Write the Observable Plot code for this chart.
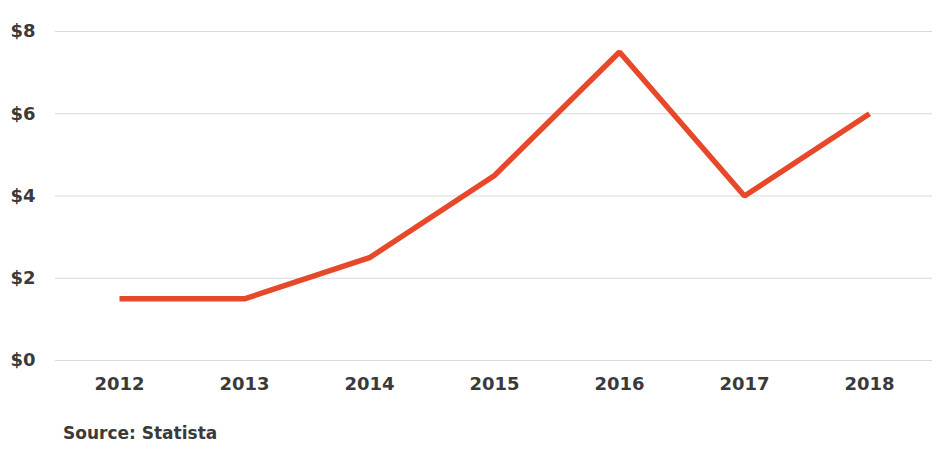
<!DOCTYPE html>
<html>
<head>
<meta charset="utf-8">
<script src="https://cdn.jsdelivr.net/npm/d3@7"></script>
<script src="https://cdn.jsdelivr.net/npm/@observablehq/plot@0.6"></script>
<style>
  body { margin: 0; background: #fff; font-family: "DejaVu Sans", sans-serif; }
  #wrap { position: relative; width: 936px; height: 450px; }
  #source { position: absolute; left: 63px; top: 423px; font-size: 17px; line-height: 20px; font-weight: 700; color: #3a3a3a; }
</style>
</head>
<body>
<div id="wrap">
  <div id="chart"></div>
  <div id="source">Source: Statista</div>
</div>
<script>
const years = ["2012", "2013", "2014", "2015", "2016", "2017", "2018"];
const values = [1.5, 1.5, 2.5, 4.5, 7.5, 4.0, 6.0];
const yTicks = [0, 2, 4, 6, 8];

const data = years.map((y, i) => ({year: y, value: values[i]}));

const chart = Plot.plot({
  width: 936,
  height: 410,
  marginTop: 31,
  marginBottom: 50,
  marginLeft: 55,
  marginRight: 4,
  style: { fontFamily: "'DejaVu Sans', sans-serif", fontWeight: 700, fontSize: "18px", color: "#3a3a3a", background: "#fff" },
  x: { type: "point", domain: years, padding: 0.5, label: null },
  y: { domain: [0, 8], label: null },
  marks: [
    Plot.ruleY(yTicks, { stroke: "#d9d9d9", strokeWidth: 1.2 }),
    Plot.axisY(yTicks, { tickFormat: d => "$" + d, tickSize: 0, tickPadding: 20, label: null, fill: "#3a3a3a" }),
    Plot.axisX({ tickSize: 0, tickPadding: 17, label: null, fill: "#3a3a3a" }),
    Plot.line(data, { x: "year", y: "value", stroke: "#E8482A", strokeWidth: 5.5, strokeLinejoin: "miter", strokeLinecap: "butt" })
  ]
});
document.getElementById("chart").appendChild(chart);
</script>
</body>
</html>
